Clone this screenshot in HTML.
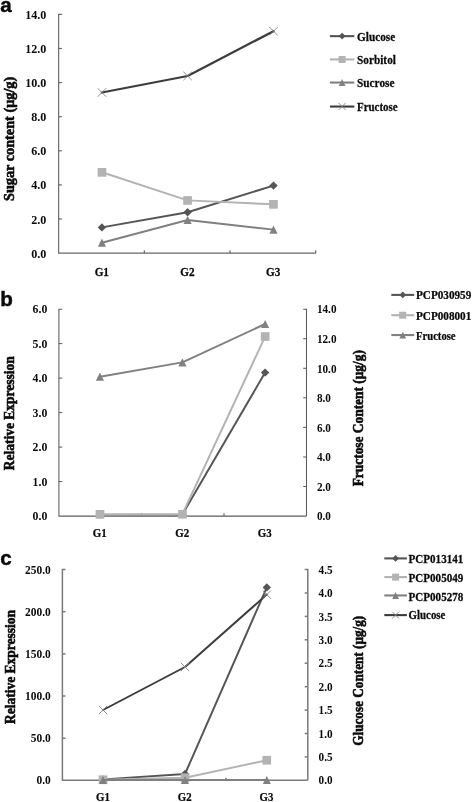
<!DOCTYPE html>
<html lang="en"><head><meta charset="utf-8"><title>Figure</title>
<style>
html,body{margin:0;padding:0;background:#fff}
svg{display:block}
.tk{font-family:"Liberation Serif",serif;font-weight:bold;fill:#0a0a0a}
.lg{stroke:#0a0a0a;stroke-width:0.25px}
.ttl{font-family:"Liberation Serif",serif;font-weight:bold;fill:#0a0a0a;stroke:#0a0a0a;stroke-width:0.6px;stroke-linejoin:round}
.pl{font-family:"Liberation Sans",sans-serif;font-weight:bold;font-size:20.6px;fill:#0a0a0a;stroke:#0a0a0a;stroke-width:0.45px}
</style></head><body>
<svg width="472" height="802" viewBox="0 0 472 802">
<rect width="472" height="802" fill="#fff"/>
<text class="pl" x="0.2" y="12.2">a</text>
<g stroke="#666666" stroke-width="1.15" fill="none">
<path d="M61.95 14.4H58.65V253.15H315.7"/>
<path d="M58.65 219.0h3.3"/>
<path d="M58.65 184.9h3.3"/>
<path d="M58.65 150.8h3.3"/>
<path d="M58.65 116.7h3.3"/>
<path d="M58.65 82.6h3.3"/>
<path d="M58.65 48.5h3.3"/>
<path d="M144.3 253.15v-2.8"/>
<path d="M230.0 253.15v-2.8"/>
<path d="M315.7 253.15v-2.8"/>
</g>
<text class="tk" x="46.3" y="257.6" font-size="12.1" text-anchor="end">0.0</text>
<text class="tk" x="46.3" y="223.5" font-size="12.1" text-anchor="end">2.0</text>
<text class="tk" x="46.3" y="189.4" font-size="12.1" text-anchor="end">4.0</text>
<text class="tk" x="46.3" y="155.3" font-size="12.1" text-anchor="end">6.0</text>
<text class="tk" x="46.3" y="121.2" font-size="12.1" text-anchor="end">8.0</text>
<text class="tk" x="46.3" y="87.1" font-size="12.1" text-anchor="end">10.0</text>
<text class="tk" x="46.3" y="53.0" font-size="12.1" text-anchor="end">12.0</text>
<text class="tk" x="46.3" y="18.9" font-size="12.1" text-anchor="end">14.0</text>
<text class="tk lg" transform="translate(101.8 275.6) scale(0.89 1)" font-size="12.6" text-anchor="middle">G1</text>
<text class="tk lg" transform="translate(187.5 275.6) scale(0.89 1)" font-size="12.6" text-anchor="middle">G2</text>
<text class="tk lg" transform="translate(273.2 275.6) scale(0.89 1)" font-size="12.6" text-anchor="middle">G3</text>
<path d="M101.9 227.4L187.6 212.2L273.5 185.6" stroke="#555555" stroke-width="1.95" fill="none" stroke-linejoin="round" stroke-linecap="round"/>
<path d="M101.9 223.2L106.1 227.4L101.9 231.6L97.7 227.4Z" fill="#555555"/>
<path d="M187.6 208.0L191.8 212.2L187.6 216.4L183.4 212.2Z" fill="#555555"/>
<path d="M273.5 181.4L277.7 185.6L273.5 189.8L269.3 185.6Z" fill="#555555"/>
<path d="M101.9 172.3L187.6 200.4L273.5 204.3" stroke="#b3b3b3" stroke-width="1.95" fill="none" stroke-linejoin="round" stroke-linecap="round"/>
<rect x="97.6" y="168.0" width="8.7" height="8.7" fill="#b3b3b3"/>
<rect x="183.2" y="196.1" width="8.7" height="8.7" fill="#b3b3b3"/>
<rect x="269.1" y="200.0" width="8.7" height="8.7" fill="#b3b3b3"/>
<path d="M101.9 242.7L187.6 220.0L273.5 229.6" stroke="#808080" stroke-width="1.95" fill="none" stroke-linejoin="round" stroke-linecap="round"/>
<path d="M101.9 238.6L106.0 246.8L97.9 246.8Z" fill="#808080"/>
<path d="M187.6 215.9L191.7 224.1L183.5 224.1Z" fill="#808080"/>
<path d="M273.5 225.5L277.6 233.7L269.4 233.7Z" fill="#808080"/>
<path d="M101.9 92.5L187.6 76.0L273.5 31.2" stroke="#3c3c3c" stroke-width="2.25" fill="none" stroke-linejoin="round" stroke-linecap="round"/>
<path d="M97.7 88.2L106.1 96.7M97.7 96.7L106.1 88.2" stroke="#828282" stroke-width="0.9" fill="none"/>
<path d="M183.4 71.8L191.8 80.2M183.4 80.2L191.8 71.8" stroke="#828282" stroke-width="0.9" fill="none"/>
<path d="M269.3 27.0L277.7 35.4M269.3 35.4L277.7 27.0" stroke="#828282" stroke-width="0.9" fill="none"/>
<path d="M329.9 36.15H354.3" stroke="#555555" stroke-width="2.1"/>
<path d="M342.1 32.8L345.5 36.1L342.1 39.5L338.7 36.1Z" fill="#555555"/>
<text class="tk lg" transform="translate(357.0 40.9) scale(0.92 1)" font-size="12.3">Glucose</text>
<path d="M329.9 59.45H354.3" stroke="#b3b3b3" stroke-width="2.1"/>
<rect x="338.6" y="56.0" width="7.0" height="7.0" fill="#b3b3b3"/>
<text class="tk lg" transform="translate(357.0 63.8) scale(0.92 1)" font-size="12.3">Sorbitol</text>
<path d="M329.9 82.55H354.3" stroke="#808080" stroke-width="2.1"/>
<path d="M342.1 79.1L345.5 86.0L338.7 86.0Z" fill="#808080"/>
<text class="tk lg" transform="translate(357.0 87.2) scale(0.92 1)" font-size="12.3">Sucrose</text>
<path d="M329.9 106.55H354.3" stroke="#3c3c3c" stroke-width="2.1"/>
<path d="M338.6 103.0L345.6 110.0M338.6 110.0L345.6 103.0" stroke="#828282" stroke-width="0.9" fill="none"/>
<text class="tk lg" transform="translate(357.0 111.2) scale(0.89 1)" font-size="12.3">Fructose</text>
<text class="ttl" text-anchor="middle" font-size="15.0" transform="translate(14.4 138.9) rotate(-90) scale(0.952 1)">Sugar content (μg/g)</text>
<text class="pl" x="0.3" y="306.1">b</text>
<g stroke="#5c5c5c" stroke-width="1.05" fill="none">
<path d="M62.20 309.15H58.9V516.1H306.5"/>
<path d="M58.9 481.6h3.3"/>
<path d="M58.9 447.1h3.3"/>
<path d="M58.9 412.6h3.3"/>
<path d="M58.9 378.1h3.3"/>
<path d="M58.9 343.6h3.3"/>
<path d="M303.20 309.15H306.5V516.1"/>
<path d="M306.5 486.5h-3.3"/>
<path d="M306.5 457.0h-3.3"/>
<path d="M306.5 427.4h-3.3"/>
<path d="M306.5 397.8h-3.3"/>
<path d="M306.5 368.3h-3.3"/>
<path d="M306.5 338.7h-3.3"/>
<path d="M141.4 516.1v-2.8"/>
<path d="M224.0 516.1v-2.8"/>
</g>
<text class="tk" x="47.3" y="520.3" font-size="11.8" text-anchor="end">0.0</text>
<text class="tk" x="47.3" y="485.8" font-size="11.8" text-anchor="end">1.0</text>
<text class="tk" x="47.3" y="451.3" font-size="11.8" text-anchor="end">2.0</text>
<text class="tk" x="47.3" y="416.8" font-size="11.8" text-anchor="end">3.0</text>
<text class="tk" x="47.3" y="382.3" font-size="11.8" text-anchor="end">4.0</text>
<text class="tk" x="47.3" y="347.8" font-size="11.8" text-anchor="end">5.0</text>
<text class="tk" x="47.3" y="313.3" font-size="11.8" text-anchor="end">6.0</text>
<text class="tk" transform="translate(316.9 520.3) scale(0.95 1)" font-size="11.8">0.0</text>
<text class="tk" transform="translate(316.9 490.7) scale(0.95 1)" font-size="11.8">2.0</text>
<text class="tk" transform="translate(316.9 461.2) scale(0.95 1)" font-size="11.8">4.0</text>
<text class="tk" transform="translate(316.9 431.6) scale(0.95 1)" font-size="11.8">6.0</text>
<text class="tk" transform="translate(316.9 402.0) scale(0.95 1)" font-size="11.8">8.0</text>
<text class="tk" transform="translate(316.9 372.5) scale(0.95 1)" font-size="11.8">10.0</text>
<text class="tk" transform="translate(316.9 342.9) scale(0.95 1)" font-size="11.8">12.0</text>
<text class="tk" transform="translate(316.9 313.3) scale(0.95 1)" font-size="11.8">14.0</text>
<text class="tk lg" transform="translate(99.7 537.0) scale(0.9 1)" font-size="12.1" text-anchor="middle">G1</text>
<text class="tk lg" transform="translate(182.2 537.0) scale(0.9 1)" font-size="12.1" text-anchor="middle">G2</text>
<text class="tk lg" transform="translate(264.7 537.0) scale(0.9 1)" font-size="12.1" text-anchor="middle">G3</text>
<path d="M99.9 514.6L182.4 514.4L265.1 372.6" stroke="#555555" stroke-width="1.95" fill="none" stroke-linejoin="round" stroke-linecap="round"/>
<path d="M99.9 510.4L104.1 514.6L99.9 518.8L95.7 514.6Z" fill="#555555"/>
<path d="M182.4 510.2L186.6 514.4L182.4 518.6L178.2 514.4Z" fill="#555555"/>
<path d="M265.1 368.4L269.3 372.6L265.1 376.8L260.9 372.6Z" fill="#555555"/>
<path d="M99.9 514.4L182.4 514.2L265.1 336.6" stroke="#b3b3b3" stroke-width="1.95" fill="none" stroke-linejoin="round" stroke-linecap="round"/>
<rect x="95.6" y="510.0" width="8.7" height="8.7" fill="#b3b3b3"/>
<rect x="178.1" y="509.9" width="8.7" height="8.7" fill="#b3b3b3"/>
<rect x="260.8" y="332.2" width="8.7" height="8.7" fill="#b3b3b3"/>
<path d="M99.9 376.7L182.4 362.4L265.1 324.0" stroke="#808080" stroke-width="1.95" fill="none" stroke-linejoin="round" stroke-linecap="round"/>
<path d="M99.9 372.6L104.0 380.8L95.9 380.8Z" fill="#808080"/>
<path d="M182.4 358.3L186.5 366.4L178.3 366.4Z" fill="#808080"/>
<path d="M265.1 319.9L269.2 328.1L261.1 328.1Z" fill="#808080"/>
<path d="M391.3 294.9H414.2" stroke="#555555" stroke-width="2.1"/>
<path d="M402.8 291.5L406.1 294.9L402.8 298.3L399.4 294.9Z" fill="#555555"/>
<text class="tk lg" transform="translate(416.0 299.3) scale(0.94 1)" font-size="11.9">PCP030959</text>
<path d="M391.3 315.2H414.2" stroke="#b3b3b3" stroke-width="2.1"/>
<rect x="399.2" y="311.7" width="7.0" height="7.0" fill="#b3b3b3"/>
<text class="tk lg" transform="translate(416.0 319.9) scale(0.94 1)" font-size="11.9">PCP008001</text>
<path d="M391.3 335.05H414.2" stroke="#808080" stroke-width="2.1"/>
<path d="M402.8 331.7L406.1 338.4L399.4 338.4Z" fill="#808080"/>
<text class="tk lg" transform="translate(416.0 339.9) scale(0.895 1)" font-size="11.9">Fructose</text>
<text class="ttl" text-anchor="middle" font-size="15.0" transform="translate(14.4 413.2) rotate(-90) scale(0.9 1)">Relative Expression</text>
<text class="ttl" text-anchor="middle" font-size="15.0" transform="translate(362.6 418.2) rotate(-90) scale(0.893 1)">Fructose Content (μg/g)</text>
<text class="pl" x="0.3" y="565.2">c</text>
<g stroke="#7a7a7a" stroke-width="1.5" fill="none">
<path d="M65.50 569.6H62.4V780.3H307.8"/>
<path d="M62.4 738.2h3.1"/>
<path d="M62.4 696.0h3.1"/>
<path d="M62.4 653.9h3.1"/>
<path d="M62.4 611.7h3.1"/>
<path d="M304.70 569.6H307.8V780.3"/>
<path d="M307.8 756.9h-3.1"/>
<path d="M307.8 733.5h-3.1"/>
<path d="M307.8 710.1h-3.1"/>
<path d="M307.8 686.7h-3.1"/>
<path d="M307.8 663.2h-3.1"/>
<path d="M307.8 639.8h-3.1"/>
<path d="M307.8 616.4h-3.1"/>
<path d="M307.8 593.0h-3.1"/>
<path d="M144.2 780.3v-2.6"/>
<path d="M226.0 780.3v-2.6"/>
</g>
<text class="tk" x="50.8" y="784.4" font-size="11.45" text-anchor="end">0.0</text>
<text class="tk" x="50.8" y="742.3" font-size="11.45" text-anchor="end">50.0</text>
<text class="tk" x="50.8" y="700.1" font-size="11.45" text-anchor="end">100.0</text>
<text class="tk" x="50.8" y="658.0" font-size="11.45" text-anchor="end">150.0</text>
<text class="tk" x="50.8" y="615.8" font-size="11.45" text-anchor="end">200.0</text>
<text class="tk" x="50.8" y="573.7" font-size="11.45" text-anchor="end">250.0</text>
<text class="tk" transform="translate(318.6 784.4) scale(0.98 1)" font-size="11.45">0.0</text>
<text class="tk" transform="translate(318.6 761.0) scale(0.98 1)" font-size="11.45">0.5</text>
<text class="tk" transform="translate(318.6 737.6) scale(0.98 1)" font-size="11.45">1.0</text>
<text class="tk" transform="translate(318.6 714.2) scale(0.98 1)" font-size="11.45">1.5</text>
<text class="tk" transform="translate(318.6 690.8) scale(0.98 1)" font-size="11.45">2.0</text>
<text class="tk" transform="translate(318.6 667.3) scale(0.98 1)" font-size="11.45">2.5</text>
<text class="tk" transform="translate(318.6 643.9) scale(0.98 1)" font-size="11.45">3.0</text>
<text class="tk" transform="translate(318.6 620.5) scale(0.98 1)" font-size="11.45">3.5</text>
<text class="tk" transform="translate(318.6 597.1) scale(0.98 1)" font-size="11.45">4.0</text>
<text class="tk" transform="translate(318.6 573.7) scale(0.98 1)" font-size="11.45">4.5</text>
<text class="tk lg" transform="translate(102.9 800.6) scale(0.88 1)" font-size="12.3" text-anchor="middle">G1</text>
<text class="tk lg" transform="translate(184.7 800.6) scale(0.88 1)" font-size="12.3" text-anchor="middle">G2</text>
<text class="tk lg" transform="translate(266.5 800.6) scale(0.88 1)" font-size="12.3" text-anchor="middle">G3</text>
<path d="M103.0 779.4L185.0 774.0L266.8 587.4" stroke="#555555" stroke-width="1.95" fill="none" stroke-linejoin="round" stroke-linecap="round"/>
<path d="M103.0 775.2L107.2 779.4L103.0 783.6L98.8 779.4Z" fill="#555555"/>
<path d="M185.0 769.8L189.2 774.0L185.0 778.2L180.8 774.0Z" fill="#555555"/>
<path d="M266.8 583.2L271.0 587.4L266.8 591.6L262.6 587.4Z" fill="#555555"/>
<path d="M103.0 779.8L185.0 777.8L266.8 760.3" stroke="#b3b3b3" stroke-width="1.95" fill="none" stroke-linejoin="round" stroke-linecap="round"/>
<rect x="98.7" y="775.4" width="8.7" height="8.7" fill="#b3b3b3"/>
<rect x="180.7" y="773.4" width="8.7" height="8.7" fill="#b3b3b3"/>
<rect x="262.4" y="755.9" width="8.7" height="8.7" fill="#b3b3b3"/>
<path d="M103.0 780.0L185.0 780.0L266.8 780.0" stroke="#808080" stroke-width="1.95" fill="none" stroke-linejoin="round" stroke-linecap="round"/>
<path d="M103.0 776.0L107.0 784.0L99.0 784.0Z" fill="#808080"/>
<path d="M185.0 776.0L189.1 784.0L180.9 784.0Z" fill="#808080"/>
<path d="M266.8 776.0L270.9 784.0L262.8 784.0Z" fill="#808080"/>
<path d="M103.0 710.0L185.0 667.0L266.8 594.6" stroke="#3c3c3c" stroke-width="1.95" fill="none" stroke-linejoin="round" stroke-linecap="round"/>
<path d="M98.8 705.8L107.2 714.2M98.8 714.2L107.2 705.8" stroke="#828282" stroke-width="0.9" fill="none"/>
<path d="M180.8 662.8L189.2 671.2M180.8 671.2L189.2 662.8" stroke="#828282" stroke-width="0.9" fill="none"/>
<path d="M262.6 590.4L271.0 598.8M262.6 598.8L271.0 590.4" stroke="#828282" stroke-width="0.9" fill="none"/>
<path d="M384.3 558.4H406.9" stroke="#555555" stroke-width="2.1"/>
<path d="M395.6 555.0L399.0 558.4L395.6 561.8L392.2 558.4Z" fill="#555555"/>
<text class="tk lg" transform="translate(408.6 563.1) scale(0.945 1)" font-size="11.7">PCP013141</text>
<path d="M384.3 577.1H406.9" stroke="#b3b3b3" stroke-width="2.1"/>
<rect x="392.1" y="573.6" width="7.0" height="7.0" fill="#b3b3b3"/>
<text class="tk lg" transform="translate(408.6 581.9) scale(0.945 1)" font-size="11.7">PCP005049</text>
<path d="M384.3 595.45H406.9" stroke="#808080" stroke-width="2.1"/>
<path d="M395.6 592.1L399.0 598.9L392.2 598.9Z" fill="#808080"/>
<text class="tk lg" transform="translate(408.6 600.5) scale(0.945 1)" font-size="11.7">PCP005278</text>
<path d="M384.3 615.1H406.9" stroke="#3c3c3c" stroke-width="2.1"/>
<path d="M392.1 611.6L399.1 618.6M392.1 618.6L399.1 611.6" stroke="#828282" stroke-width="0.9" fill="none"/>
<text class="tk lg" transform="translate(408.6 619.2) scale(0.928 1)" font-size="11.7">Glucose</text>
<text class="ttl" text-anchor="middle" font-size="15.0" transform="translate(15.0 667.0) rotate(-90) scale(0.9 1)">Relative Expression</text>
<text class="ttl" text-anchor="middle" font-size="15.0" transform="translate(362.8 680.8) rotate(-90) scale(0.881 1)">Glucose Content (μg/g)</text>
</svg></body></html>
